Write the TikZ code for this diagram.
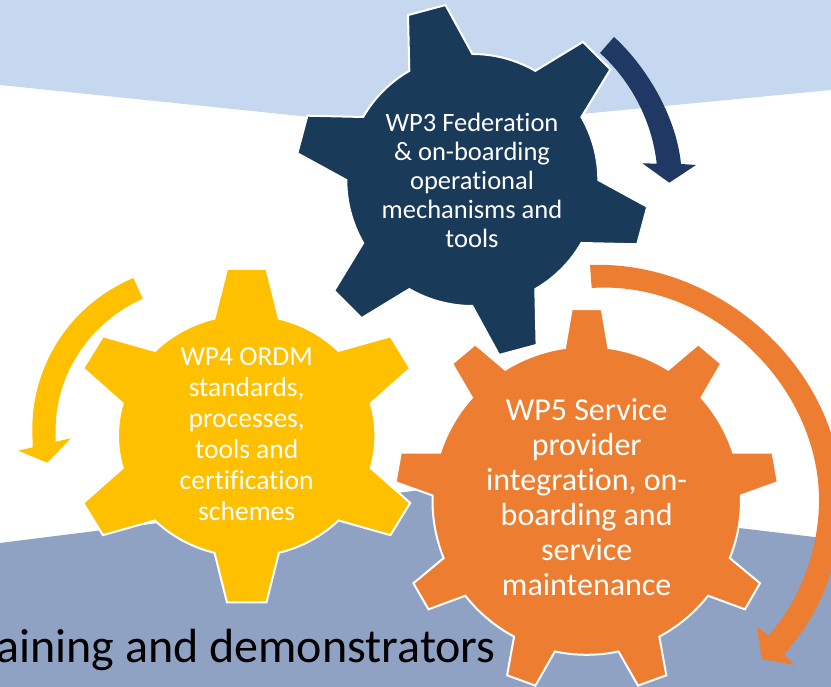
\documentclass[tikz,border=0pt]{standalone}
\usepackage{fontspec}
\setmainfont{Carlito}[Ligatures=NoCommon]
\definecolor{topblue}{HTML}{C5D8EF}
\definecolor{lowblue}{HTML}{8FA2C4}
\definecolor{navygear}{HTML}{1A3A5A}
\definecolor{navyarrow}{HTML}{1F3864}
\definecolor{orangeC}{HTML}{ED7D31}
\definecolor{yellowC}{HTML}{FFC000}
% #1 cx, #2 cy (screen px), #3 root radius, #4 tip radius, #5 teeth, #6 first tooth angle, #7 root half angle, #8 tip half angle, #9 style
\newcommand{\gearshape}[9]{%
  \begin{scope}[shift={(#1,687-#2)},#9]
    \pgfmathsetmacro{\gstep}{360/#5}
    \pgfmathsetmacro{\gstart}{#6-#7}
    \pgfmathsetmacro{\glast}{#5-1}
    \draw[gearline] (\gstart:#3)
      \foreach \i [evaluate=\i as \a using #6+\i*\gstep] in {0,...,\glast} {
        -- (\a-#8:#4) -- (\a+#8:#4) -- (\a+#7:#3)
        arc[start angle=\a+#7, end angle=\a+\gstep-#7, radius=#3]
      } -- cycle;
  \end{scope}}
\tikzset{
  x=1pt,y=1pt,
  gearline/.style={line width=2pt,draw=white,line join=miter},
  geartext/.style={text=white,align=center,inner sep=0pt},
}
\begin{document}
\begin{tikzpicture}
\useasboundingbox (0,0) rectangle (831,687);
\clip (0,0) rectangle (831,687);
\fill[white] (0,0) rectangle (831,687);
% backgrounds
\fill[topblue] (0,687) -- (831,687) -- (831,687-90) -- (426,687-129) -- (0,687-85) -- cycle;
\fill[lowblue] (0,0) -- (831,0) -- (831,687-539) -- (421,687-490) -- (0,687-543) -- cycle;
\node[anchor=base east,inner sep=0pt,font=\fontsize{48}{58}\selectfont,text=black] (title) at (496,687-663) {Training and demonstrators};
% arrows
\fill[navyarrow] (614,687-37) .. controls (644,687-64) and (676,687-114) .. (681,687-164)
  -- (696,687-165) -- (669.3,687-182.7) -- (642.3,687-163.3) -- (656.7,687-163.7)
  .. controls (652,687-120) and (630,687-80) .. (600,687-53) -- cycle;
\fill[orangeC] (590,687-265) .. controls (720,687-260) and (842,687-370) .. (842,687-500)
  .. controls (842,687-560) and (820,687-615) .. (784,687-654)
  -- (794.3,687-665) -- (761.7,687-659) -- (756.7,687-626) -- (768.3,687-636)
  .. controls (800,687-600) and (819,687-550) .. (819,687-500)
  .. controls (819,687-385) and (710,687-280) .. (591.7,687-288) -- cycle;
\fill[yellowC] (133.3,687-278) .. controls (70,687-305) and (32,687-365) .. (32.3,687-430)
  -- (32.7,687-447.3) -- (18.3,687-450.7) -- (47.3,687-462.7) -- (70.7,687-438.3) -- (55.7,687-441.7)
  -- (55.7,687-430) .. controls (55,687-375) and (90,687-322) .. (142.7,687-298.7) -- cycle;
% gears
\gearshape{472.3}{180}{126}{177}{6}{105}{15}{6.3}{gearline/.append style={fill=navygear}}
\gearshape{246.7}{435.7}{128.7}{178.5}{6}{90}{14.5}{6.35}{yscale=0.94,gearline/.append style={fill=yellowC}}
\gearshape{586.7}{500.6}{154.2}{192}{9}{90}{8.1}{4.5}{gearline/.append style={fill=orangeC}}
% labels
\node[geartext,font=\fontsize{26.5}{29}\selectfont] (wp3) at (472,687-180) {WP3 Federation\\\& on-boarding\\operational\\mechanisms and\\tools};
\node[geartext,font=\fontsize{27.5}{31}\selectfont] (wp4) at (246.7,687-434) {WP4 ORDM\\standards,\\processes,\\tools and\\certification\\schemes};
\node[geartext,font=\fontsize{32}{35}\selectfont] (wp5) at (586.7,687-497) {WP5 Service\\provider\\integration, on-\\boarding and\\service\\maintenance};
\end{tikzpicture}
\end{document}
